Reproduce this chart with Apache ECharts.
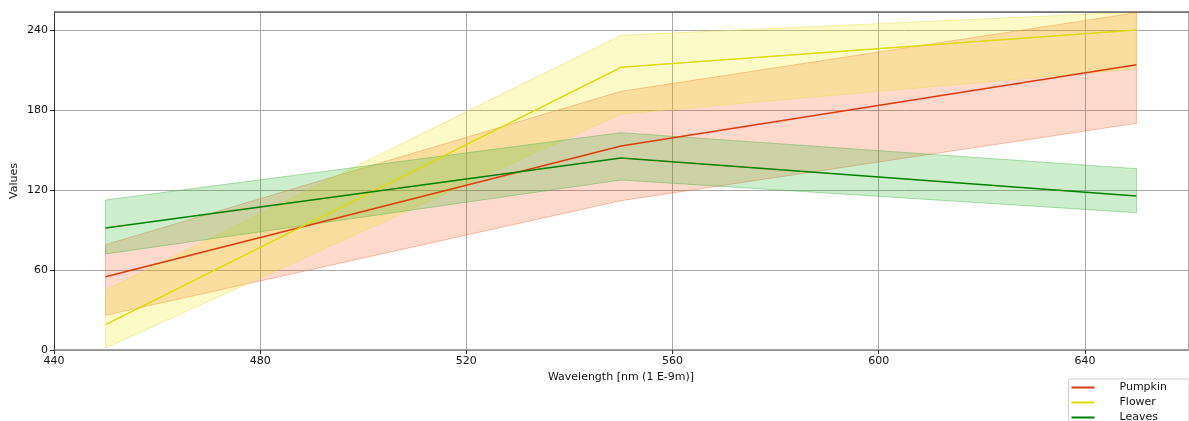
<!DOCTYPE html>
<html>
<head>
<meta charset="utf-8">
<script src="https://cdn.jsdelivr.net/npm/echarts@6/dist/echarts.min.js"></script>
<style>
  html, body { margin: 0; padding: 0; background: #fff; }
  #chart { width: 1189px; height: 421px; }
</style>
</head>
<body>
<div id="chart"></div>
<script>
// wavelengths in nm
const wavelengths = [450, 550, 650];

const pumpkinMean = [55, 153, 214];
const pumpkinLow = [26, 112, 170];
const pumpkinHigh = [79, 194, 253];

const flowerMean = [19, 212, 240];
const flowerLow = [1.5, 177, 211];
const flowerHigh = [45, 236, 253.5];

const leavesMean = [91.5, 144, 115.5];
const leavesLow = [72, 127.5, 103];
const leavesHigh = [112.5, 163, 136];

const xTicks = [440, 480, 520, 560, 600, 640];
const yTicks = [0, 60, 120, 180, 240];

const pts = (ys) => wavelengths.map((x, i) => [x, ys[i]]);

// filled band between low and high, drawn as one polygon through the axes
function band(id, lo, hi, fill, edge) {
    const rows = wavelengths.map((x, i) => [x, lo[i], hi[i]]);
    return {
        name: id + "-band",
        type: "custom",
        silent: true,
        data: rows,
        encode: { x: 0, y: [1, 2] },
        z: 1,
        renderItem: (params, api) => {
            if (params.dataIndex !== 0) return null;
            const top = rows.map((r) => api.coord([r[0], r[2]]));
            const bottom = rows.map((r) => api.coord([r[0], r[1]])).reverse();
            return {
                type: "polygon",
                shape: { points: top.concat(bottom) },
                style: { fill: fill, stroke: edge, lineWidth: 1 },
            };
        },
    };
}

function meanLine(name, ys, color) {
    return {
        name: name,
        type: "line",
        data: pts(ys),
        symbol: "none",
        lineStyle: { width: 1.5, color: color },
        itemStyle: { color: color },
        z: 5,
    };
}

const chart = echarts.init(document.getElementById("chart"));

const options = {
    animation: false,
    textStyle: { fontFamily: "DejaVu Sans" },
    grid: {
        left: 54,
        right: 1,
        top: 12,
        bottom: 71,
        containLabel: false,
        outerBoundsMode: "none",
    },
    legend: {
        data: ["Pumpkin", "Flower", "Leaves"],
        orient: "vertical",
        right: 0,
        bottom: -5,
        backgroundColor: "#fff",
        borderColor: "#d0d0d0",
        borderWidth: 1,
        borderRadius: 2,
        padding: [3, 22, 3, 3],
        itemWidth: 23,
        itemHeight: 2,
        itemGap: 4,
        icon: "rect",
        textStyle: {
            fontSize: 11,
            color: "#111",
            padding: [0, 0, 0, 20],
        },
    },
    xAxis: {
        type: "value",
        min: 440,
        max: 660,
        interval: 40,
        name: "Wavelength [nm (1 E-9m)]",
        nameLocation: "middle",
        nameGap: 22,
        nameTextStyle: { fontSize: 11, color: "#111" },
        axisLine: { lineStyle: { color: "#888", width: 1.5 } },
        axisTick: { show: true, length: 4, lineStyle: { color: "#333" } },
        axisLabel: {
            fontSize: 11,
            color: "#111",
            margin: 6,
            showMaxLabel: false,
            formatter: (v) => (xTicks.includes(v) ? String(v) : ""),
        },
        splitLine: { show: true, lineStyle: { color: "#a8a8a8", width: 1 } },
    },
    yAxis: {
        type: "value",
        min: 0,
        max: 253.5,
        interval: 60,
        name: "Values",
        nameLocation: "middle",
        nameGap: 34,
        nameMoveOverlap: false,
        nameTextStyle: { fontSize: 11, color: "#111" },
        axisLine: { show: true, lineStyle: { color: "#333", width: 1 } },
        axisTick: { show: true, length: 4, lineStyle: { color: "#333" } },
        axisLabel: {
            fontSize: 11,
            color: "#111",
            margin: 6,
            showMaxLabel: false,
            formatter: (v) => (yTicks.includes(v) ? String(v) : ""),
        },
        splitLine: { show: true, lineStyle: { color: "#a8a8a8", width: 1 } },
    },
    graphic: [
        {
            type: "line",
            shape: { x1: 54, y1: 12, x2: 1189, y2: 12 },
            style: { stroke: "#666", lineWidth: 1.5 },
            z: 10,
        },
    ],
    series: [
        band("pumpkin", pumpkinLow, pumpkinHigh, "rgba(255,69,0,0.2)", "rgba(240,120,80,0.45)"),
        band("flower", flowerLow, flowerHigh, "rgba(240,230,0,0.22)", "rgba(230,220,80,0.45)"),
        band("leaves", leavesLow, leavesHigh, "rgba(40,180,40,0.23)", "rgba(60,170,60,0.4)"),
        meanLine("Pumpkin", pumpkinMean, "#e03a0c"),
        meanLine("Flower", flowerMean, "#dcdc00"),
        meanLine("Leaves", leavesMean, "#008000"),
    ],
};

chart.setOption(options);
</script>
</body>
</html>
